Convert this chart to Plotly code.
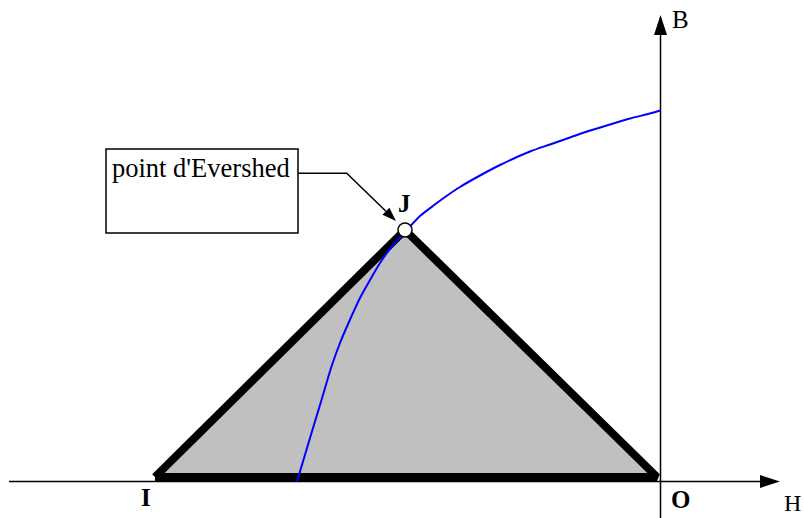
import numpy as np
import plotly.graph_objects as go

# ---- data (H, B in arbitrary units, origin O) ----
curve_H = [-7.27, -6.98, -6.78, -6.58, -6.41, -6.24, -6.01, -5.81, -5.61, -5.35, -5.11,
           -4.81, -4.54, -4.28, -4.01, -3.61, -3.21, -2.61, -2.21, -1.81, -1.41, -1.01,
           -0.61, -0.21, 0.0]
curve_B = [0.0, 0.97, 1.63, 2.30, 2.77, 3.17, 3.67, 4.03, 4.37, 4.73, 4.99,
           5.31, 5.52, 5.71, 5.89, 6.12, 6.33, 6.60, 6.74, 6.88, 7.02, 7.14,
           7.26, 7.36, 7.42]
tri_names = ["I", "J", "O"]
tri_H = [-10.11, -5.11, -0.07]
tri_B = [0.09, 5.03, 0.09]
point_J = (-5.11, 5.03)
box_label = "point d'Evershed"

S = 50.0  # px per unit
XR = [-13.21, 2.87]
YR = [-0.73, 9.63]
W, Hh = 804, 518

def u(px):
    return px / S

fig = go.Figure()

# triangle
fig.add_trace(go.Scatter(x=tri_H + [tri_H[0]], y=tri_B + [tri_B[0]], mode="lines",
                         fill="toself", fillcolor="#c0c0c0",
                         line=dict(color="black", width=8), hoverinfo="skip"))
# blue curve
fig.add_trace(go.Scatter(x=curve_H, y=curve_B, mode="lines", line_shape="spline",
                         line=dict(color="#0000ff", width=2, smoothing=0.6), hoverinfo="skip"))
# Evershed point
fig.add_trace(go.Scatter(x=[point_J[0]], y=[point_J[1]], mode="markers",
                         marker=dict(size=14, color="white", line=dict(color="black", width=1.5)),
                         hoverinfo="skip"))

shapes = []
# axes
h_tip, b_tip = 2.39, 9.33
shapes.append(dict(type="line", x0=-13.03, y0=0, x1=h_tip - u(18), y1=0, layer="below",
                   line=dict(color="black", width=1.5)))
shapes.append(dict(type="line", x0=0, y0=YR[0], x1=0, y1=b_tip - u(18), layer="below",
                   line=dict(color="black", width=1.5)))
shapes.append(dict(type="path", layer="above", fillcolor="black", line=dict(width=0),
                   path=f"M{h_tip},0 L{h_tip-u(20)},{u(6.5)} L{h_tip-u(20)},{-u(6.5)} Z"))
shapes.append(dict(type="path", layer="above", fillcolor="black", line=dict(width=0),
                   path=f"M0,{b_tip} L{-u(6.5)},{b_tip-u(20)} L{u(6.5)},{b_tip-u(20)} Z"))

# label box
bx0, bx1 = (106 - 660.5) / S, (298 - 660.5) / S
by0, by1 = (481.5 - 233) / S, (481.5 - 149) / S
shapes.append(dict(type="rect", x0=bx0, x1=bx1, y0=by0, y1=by1, layer="above",
                   fillcolor="white", line=dict(color="black", width=1.5)))

# leader line
elbow = (-6.276, 6.164)
start = (bx1, 6.164)
tip = (-5.29, 5.21)
d = np.array([tip[0] - elbow[0], tip[1] - elbow[1]])
d = d / np.linalg.norm(d)
nrm = np.array([-d[1], d[0]])
L, hw = u(14), u(5)
base = np.array(tip) - d * L
p1 = base + nrm * hw
p2 = base - nrm * hw
shapes.append(dict(type="path", layer="above", line=dict(color="black", width=1.5),
                   path=f"M{start[0]},{start[1]} L{elbow[0]},{elbow[1]} L{base[0]},{base[1]}"))
shapes.append(dict(type="path", layer="above", fillcolor="black", line=dict(width=0),
                   path=f"M{tip[0]},{tip[1]} L{p1[0]},{p1[1]} L{p2[0]},{p2[1]} Z"))

serif = "Liberation Serif, Times New Roman, serif"
ann = []
ann.append(dict(x=(110 - 660.5) / S, y=(481.5 - 168) / S, text=box_label, showarrow=False,
                xanchor="left", yanchor="middle", font=dict(family=serif, size=26.5, color="black")))
label_pos = {"I": (-10.29, -0.31), "J": (-5.12, 5.56), "O": (0.39, -0.35)}
for n in tri_names:
    ann.append(dict(x=label_pos[n][0], y=label_pos[n][1], text=f"<b>{n}</b>", showarrow=False,
                    font=dict(family=serif, size=25, color="black")))
ann.append(dict(x=0.39, y=9.24, text="B", showarrow=False, font=dict(family=serif, size=25, color="black")))
ann.append(dict(x=(792.5 - 660.5) / S, y=(481.5 - 503) / S, text="H", showarrow=False,
                xanchor="center", borderpad=0, font=dict(family=serif, size=24, color="black")))

fig.update_layout(width=W, height=Hh, margin=dict(l=0, r=0, t=0, b=0),
                  paper_bgcolor="white", plot_bgcolor="white", showlegend=False,
                  xaxis=dict(range=XR, visible=False, fixedrange=True),
                  yaxis=dict(range=YR, visible=False, fixedrange=True),
                  shapes=shapes, annotations=ann)
fig.write_html("out.html", config={"displayModeBar": False, "staticPlot": True},
               post_script="document.body.style.margin='0';document.body.style.overflow='hidden';")
